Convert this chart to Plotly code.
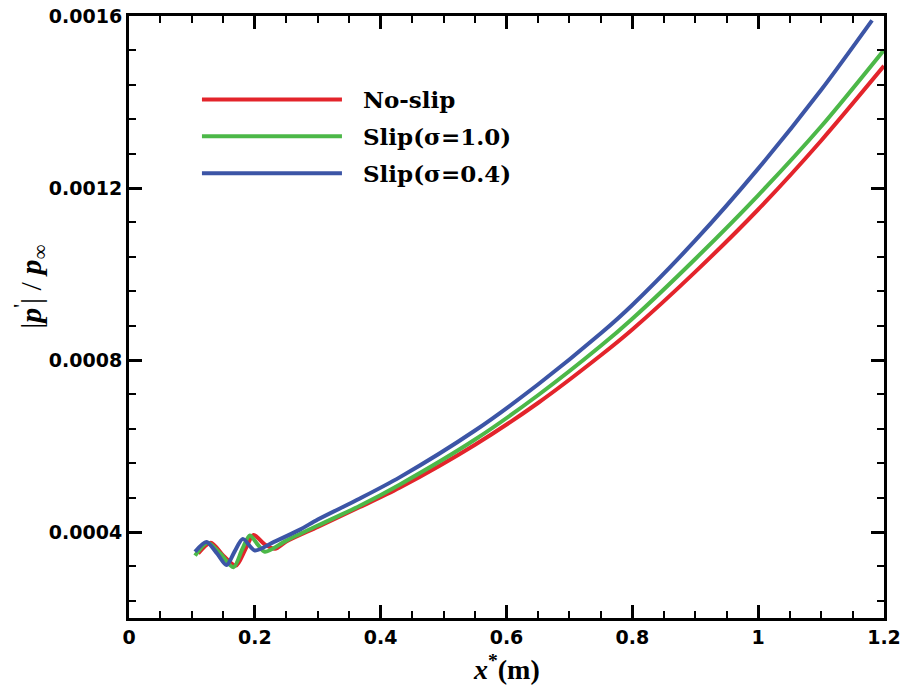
import plotly.graph_objects as go

# ---- data ----
x_noslip = [0.11, 0.13, 0.15, 0.17, 0.185, 0.198, 0.215, 0.232, 0.25, 0.30, 0.367, 0.43, 0.55, 0.65, 0.75, 0.80, 0.90, 1.0, 1.10, 1.2]
y_noslip = [0.000350, 0.000375, 0.000345, 0.000322, 0.000360, 0.000393, 0.000372, 0.000361, 0.000378, 0.000412, 0.000458, 0.000503, 0.000603, 0.000700, 0.000811, 0.000871, 0.001005, 0.001150, 0.001310, 0.001484]

x_slip10 = [0.105, 0.125, 0.145, 0.166, 0.18, 0.192, 0.205, 0.216, 0.25, 0.30, 0.367, 0.43, 0.55, 0.65, 0.75, 0.80, 0.90, 1.0, 1.10, 1.2]
y_slip10 = [0.000345, 0.000375, 0.000350, 0.000318, 0.000360, 0.000392, 0.000370, 0.000354, 0.000380, 0.000415, 0.000461, 0.000510, 0.000615, 0.000718, 0.000833, 0.000896, 0.001035, 0.001183, 0.001343, 0.001521]

x_slip04 = [0.105, 0.123, 0.14, 0.155, 0.168, 0.181, 0.2, 0.229, 0.271, 0.30, 0.367, 0.43, 0.55, 0.65, 0.75, 0.80, 0.90, 1.0, 1.10, 1.181]
y_slip04 = [0.000354, 0.000377, 0.000350, 0.000323, 0.000355, 0.000384, 0.000357, 0.000376, 0.000405, 0.000429, 0.000478, 0.000527, 0.000636, 0.000743, 0.000862, 0.000928, 0.001078, 0.001245, 0.001428, 0.001590]

series_names = ["No-slip", "Slip(σ=1.0)", "Slip(σ=0.4)"]
series_colors = ["#E3242B", "#4CB848", "#3C55A6"]

x_ticks = [0, 0.2, 0.4, 0.6, 0.8, 1.0, 1.2]
x_ticklabels = ["0", "0.2", "0.4", "0.6", "0.8", "1", "1.2"]
y_ticks = [0.0004, 0.0008, 0.0012, 0.0016]
y_ticklabels = ["0.0004", "0.0008", "0.0012", "0.0016"]

X_RANGE = [0, 1.2]
Y_RANGE = [0.0002, 0.0016]

fig = go.Figure()
for i, (xs, ys) in enumerate([(x_noslip, y_noslip), (x_slip10, y_slip10), (x_slip04, y_slip04)]):
    fig.add_trace(go.Scatter(
        x=xs, y=ys, mode="lines", name="\u00a0\u00a0" + series_names[i],
        line=dict(color=series_colors[i], width=4, shape="spline", smoothing=0.8),
        legendgroup=f"g{i}",
    ))

tickfont = dict(family="DejaVu Sans", size=19, color="black", weight="bold")
axis_common = dict(
    showline=True, linecolor="black", linewidth=3, mirror="ticks",
    ticks="inside", ticklen=13, tickwidth=2.5, tickcolor="black",
    showgrid=False, zeroline=False, tickfont=tickfont, automargin=False,
)
minor_x = dict(dtick=0.05, tick0=0, ticks="inside", ticklen=7, tickwidth=1.5, tickcolor="black")
minor_y = dict(dtick=0.00008, tick0=0, ticks="inside", ticklen=7, tickwidth=1.5, tickcolor="black")

fig.update_layout(
    xaxis=dict(
        range=X_RANGE, tickvals=x_ticks, ticktext=x_ticklabels, minor=minor_x,
        **axis_common,
    ),
    yaxis=dict(
        range=Y_RANGE, tickvals=y_ticks, ticktext=y_ticklabels, minor=minor_y,
        **axis_common,
    ),
    # top / right companion axes so minor ticks appear on all four sides
    xaxis2=dict(
        overlaying="x", side="top", range=X_RANGE, tickvals=x_ticks, showticklabels=False,
        ticks="inside", ticklen=13, tickwidth=2.5, tickcolor="black", minor=minor_x,
        showline=False, showgrid=False, zeroline=False, automargin=False,
    ),
    yaxis2=dict(
        overlaying="y", side="right", range=Y_RANGE, tickvals=y_ticks, showticklabels=False,
        ticks="inside", ticklen=13, tickwidth=2.5, tickcolor="black", minor=minor_y,
        showline=False, showgrid=False, zeroline=False, automargin=False,
    ),
)

# axis titles
fig.add_annotation(
    text="<b><i>x</i><sup>*</sup>(m)</b>",
    xref="paper", yref="paper", x=0.5, y=-0.082,
    showarrow=False, xanchor="center", yanchor="middle",
    font=dict(family="Liberation Serif, Times New Roman", size=28, color="black"),
)
fig.add_annotation(
    text="|<b><i>p</i></b><sup>'</sup>| / <b><i>p</i></b><sub>∞</sub>",
    xref="paper", yref="paper", x=-0.13, y=0.55, textangle=-90,
    showarrow=False, xanchor="center", yanchor="middle",
    font=dict(family="Liberation Serif, Times New Roman", size=30, color="black"),
)

fig.update_layout(
    width=902, height=689,
    margin=dict(l=129, r=18, t=16, b=71),
    plot_bgcolor="white", paper_bgcolor="white",
    showlegend=True,
    legend=dict(
        x=0.09, y=0.897, xanchor="left", yanchor="top",
        bgcolor="rgba(0,0,0,0)", borderwidth=0,
        font=dict(family="DejaVu Serif", size=23, color="black", weight="bold"),
        itemwidth=140, tracegroupgap=4, traceorder="grouped",
    ),
)

fig.write_html("out.html")
